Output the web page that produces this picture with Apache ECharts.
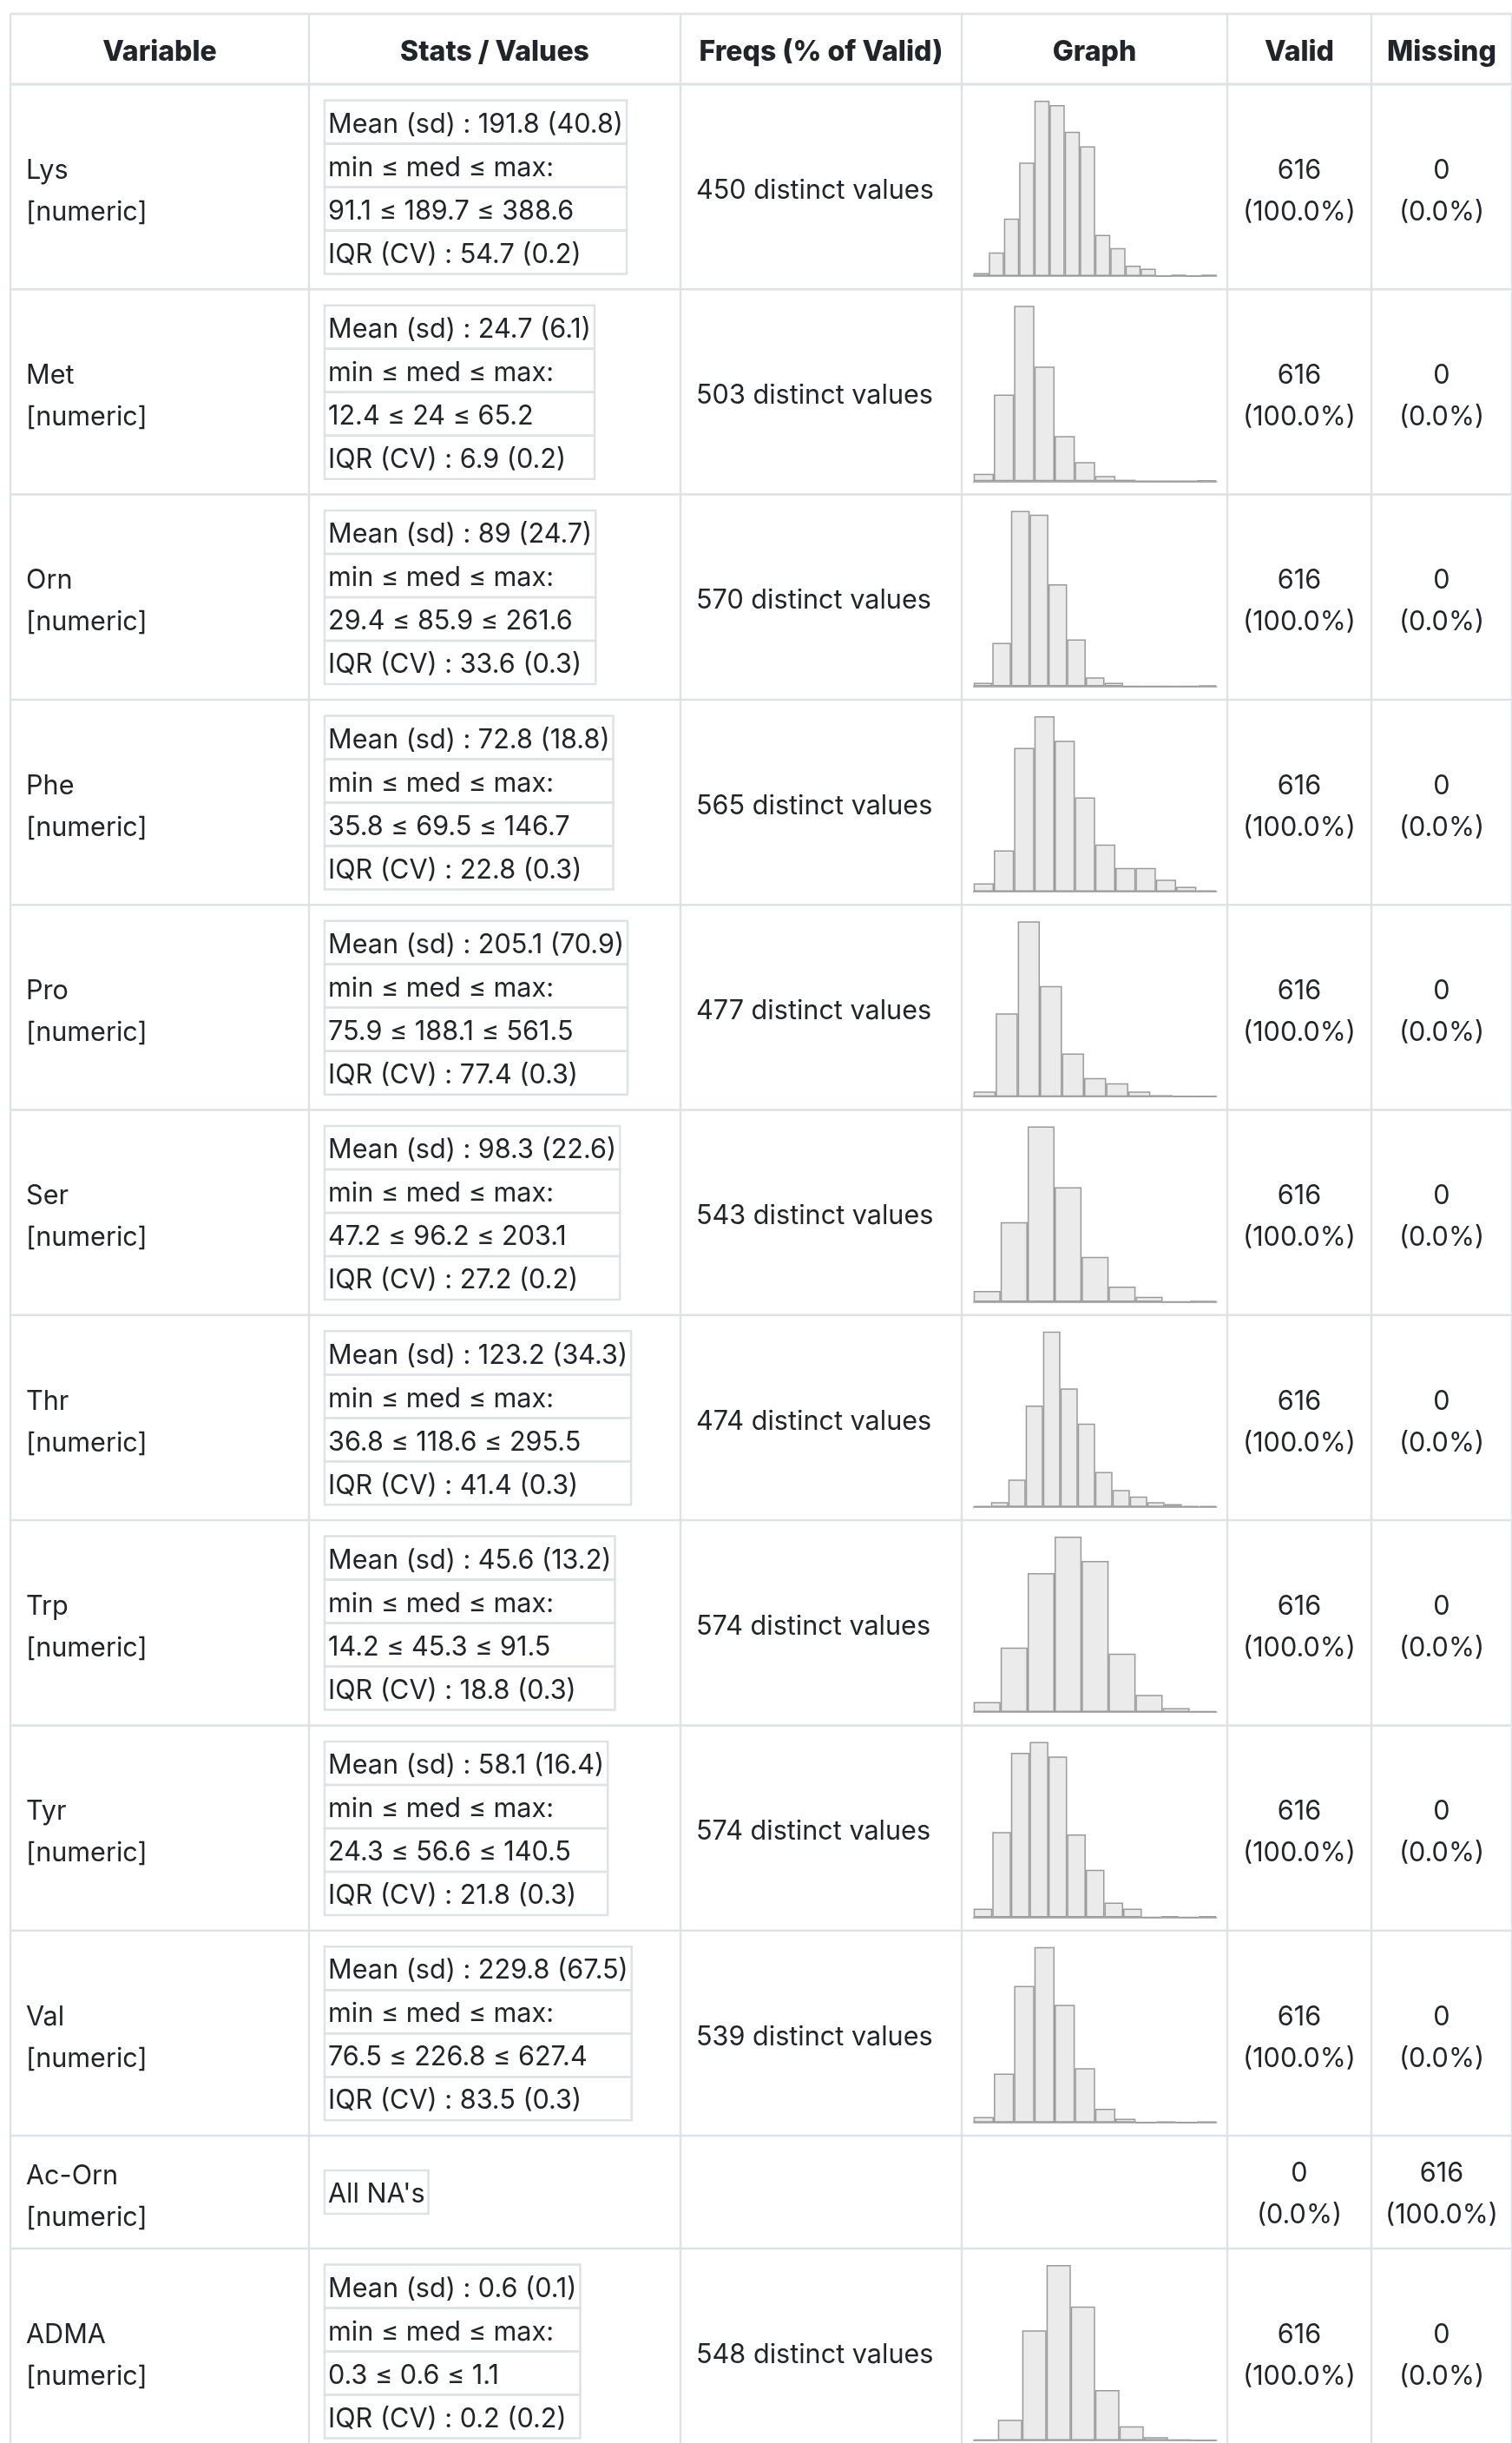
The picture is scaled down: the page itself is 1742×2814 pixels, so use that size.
<!DOCTYPE html>
<html><head><meta charset="utf-8">
<script src="https://cdn.jsdelivr.net/npm/echarts@6/dist/echarts.min.js"></script>
<style>html,body{margin:0;padding:0;background:#fff}#c{width:1742px;height:2814px}</style>
</head><body><div id="c"></div><script>
// ---------- data ----------
const headers = ['Variable', 'Stats / Values', 'Freqs (% of Valid)', 'Graph', 'Valid', 'Missing'];
const variables = ['Lys', 'Met', 'Orn', 'Phe', 'Pro', 'Ser', 'Thr', 'Trp', 'Tyr', 'Val', 'Ac-Orn', 'ADMA'];
const varTypes = ['[numeric]', '[numeric]', '[numeric]', '[numeric]', '[numeric]', '[numeric]', '[numeric]', '[numeric]', '[numeric]', '[numeric]', '[numeric]', '[numeric]'];
const meanSd = ['191.8 (40.8)', '24.7 (6.1)', '89 (24.7)', '72.8 (18.8)', '205.1 (70.9)', '98.3 (22.6)', '123.2 (34.3)', '45.6 (13.2)', '58.1 (16.4)', '229.8 (67.5)', null, '0.6 (0.1)'];
const minMedMax = ['91.1 ≤ 189.7 ≤ 388.6', '12.4 ≤ 24 ≤ 65.2', '29.4 ≤ 85.9 ≤ 261.6', '35.8 ≤ 69.5 ≤ 146.7', '75.9 ≤ 188.1 ≤ 561.5', '47.2 ≤ 96.2 ≤ 203.1', '36.8 ≤ 118.6 ≤ 295.5', '14.2 ≤ 45.3 ≤ 91.5', '24.3 ≤ 56.6 ≤ 140.5', '76.5 ≤ 226.8 ≤ 627.4', null, '0.3 ≤ 0.6 ≤ 1.1'];
const iqrCv = ['54.7 (0.2)', '6.9 (0.2)', '33.6 (0.3)', '22.8 (0.3)', '77.4 (0.3)', '27.2 (0.2)', '41.4 (0.3)', '18.8 (0.3)', '21.8 (0.3)', '83.5 (0.3)', null, '0.2 (0.2)'];
const allNaText = "All NA's";
const distinctValues = [450, 503, 570, 565, 477, 543, 474, 574, 574, 539, null, 548];
const validCounts = [616, 616, 616, 616, 616, 616, 616, 616, 616, 616, 0, 616];
const validPcts = ['100.0%', '100.0%', '100.0%', '100.0%', '100.0%', '100.0%', '100.0%', '100.0%', '100.0%', '100.0%', '0.0%', '100.0%'];
const missingCounts = [0, 0, 0, 0, 0, 0, 0, 0, 0, 0, 616, 0];
const missingPcts = ['0.0%', '0.0%', '0.0%', '0.0%', '0.0%', '0.0%', '0.0%', '0.0%', '0.0%', '0.0%', '100.0%', '0.0%'];

// histogram bin counts
const histLys = [2, 16, 39, 77, 119, 116, 98, 88, 28, 19, 7, 5, 0, 1, 0, 1];
const histMet = [10, 117, 237, 155, 61, 26, 7, 2, 0, 0, 0, 1];
const histOrn = [4, 48, 194, 190, 113, 52, 10, 4, 0, 0, 0, 0, 1];
const histPhe = [7, 35, 122, 149, 128, 80, 40, 20, 20, 10, 4, 1];
const histPro = [7, 112, 236, 149, 58, 25, 18, 7, 2, 1, 1];
const histSer = [15, 110, 242, 158, 62, 21, 7, 0, 1];
const histThr = [1, 5, 29, 107, 185, 125, 88, 37, 18, 11, 5, 3, 1, 1];
const histTrp = [10, 64, 138, 174, 150, 58, 17, 4, 1];
const histTyr = [7, 70, 135, 144, 132, 68, 39, 12, 7, 0, 1, 0, 1];
const histVal = [6, 54, 151, 194, 130, 60, 15, 4, 0, 1, 0, 1];
const histADMA = [1, 25, 133, 212, 162, 61, 17, 4, 1, 0];
const histByVar = { Lys: histLys, Met: histMet, Orn: histOrn, Phe: histPhe, Pro: histPro, Ser: histSer, Thr: histThr, Trp: histTrp, Tyr: histTyr, Val: histVal, ADMA: histADMA };

// ---------- layout ----------
const FONT = 'Inter, "Noto Sans", sans-serif';
const FS = 30.6;
const HFS = 32;
const DY = 3.5;
const TXT = '#212529';
const BORDER = '#dee2e6';
const colX = [12, 356, 784, 1108, 1414, 1580, 1742];
const headTop = 16, headBot = 97;
const rowH = 236.3, naRowH = 130;
const rowTops = [];
{
  let y = headBot;
  variables.forEach((v, i) => { rowTops.push(y); y += (meanSd[i] === null ? naRowH : rowH); });
  rowTops.push(y);
}

const meas = document.createElement('canvas').getContext('2d');
meas.font = FS + 'px ' + FONT;
const tw = s => meas.measureText(s).width;

const chart = echarts.init(document.getElementById('c'), null, { renderer: 'canvas', width: 1742, height: 2814 });

const gfx = [];
function text(x, y, s, align, bold) {
  gfx.push({ type: 'text', x: x, y: y + DY, z: 10, silent: true,
    style: { text: s, font: (bold ? '800 ' + HFS : FS) + 'px ' + FONT, fill: TXT,
      align: align, verticalAlign: 'middle', textAlign: align, textVerticalAlign: 'middle' } });
}
function hline(y, x1, x2, w) {
  gfx.push({ type: 'line', z: 1, silent: true, shape: { x1: x1, y1: y, x2: x2, y2: y }, style: { stroke: BORDER, lineWidth: w || 2.5 } });
}
function vline(x, y1, y2) {
  gfx.push({ type: 'line', z: 1, silent: true, shape: { x1: x, y1: y1, x2: x, y2: y2 }, style: { stroke: BORDER, lineWidth: 2.5 } });
}
function rect(x, y, w, h) {
  gfx.push({ type: 'rect', z: 2, silent: true, shape: { x: x, y: y, width: w, height: h }, style: { fill: 'none', stroke: BORDER, lineWidth: 2.5 } });
}

// table lines
hline(headTop, colX[0], 1742);
hline(headBot, colX[0], 1742, 3);
rowTops.slice(1).forEach(y => hline(y, colX[0], 1742));
colX.forEach(x => vline(x, headTop, 2814));

// headers
const headY = (headTop + headBot) / 2;
headers.forEach((h, i) => text((colX[i] + colX[i + 1]) / 2, headY, h, 'center', true));

const grids = [], xAxes = [], yAxes = [], series = [];
variables.forEach((v, i) => {
  const top = rowTops[i], bot = rowTops[i + 1];
  const cy = (top + bot) / 2 + 2;
  // variable column
  text(colX[0] + 18, cy - 24, v, 'left');
  text(colX[0] + 18, cy + 24, varTypes[i], 'left');
  // stats box
  const bx = colX[1] + 18;
  if (meanSd[i] === null) {
    const w = tw(allNaText) + 8;
    rect(bx, cy - 2 - 25, w, 50);
    text(bx + 4, cy - 3, allNaText, 'left');
  } else {
    const lines = ['Mean (sd) : ' + meanSd[i], 'min ≤ med ≤ max:', minMedMax[i], 'IQR (CV) : ' + iqrCv[i]];
    const w = Math.max.apply(null, lines.map(tw)) + 8;
    const by = top + 18.5;
    lines.forEach((s, k) => {
      rect(bx, by + k * 50, w, 50);
      text(bx + 4, by + k * 50 + 24.5, s, 'left');
    });
  }
  // freqs
  if (distinctValues[i] !== null) text(colX[2] + 18, cy - 1, distinctValues[i] + ' distinct values', 'left');
  // valid / missing
  const vcx = (colX[4] + colX[5]) / 2, mcx = (colX[5] + colX[6]) / 2;
  const vOff = meanSd[i] === null ? -3 : 0;
  text(vcx, cy - 24 + vOff, String(validCounts[i]), 'center');
  text(vcx, cy + 24 + vOff, '(' + validPcts[i] + ')', 'center');
  text(mcx, cy - 24 + vOff, String(missingCounts[i]), 'center');
  text(mcx, cy + 24 + vOff, '(' + missingPcts[i] + ')', 'center');
  // histogram
  const h = histByVar[v];
  if (h) {
    const gi = grids.length;
    grids.push({ left: 1121.7, width: 280, top: top + 19, height: 202, containLabel: false });
    xAxes.push({ type: 'category', gridIndex: gi, data: h.map((_, k) => String(k + 1)), boundaryGap: true,
      axisLine: { show: true, lineStyle: { color: '#9a9a9a', width: 1.5 } }, axisTick: { show: false }, axisLabel: { show: false }, splitLine: { show: false } });
    yAxes.push({ type: 'value', gridIndex: gi, min: 0, max: 'dataMax', show: false, splitLine: { show: false } });
    series.push({ type: 'bar', xAxisIndex: gi, yAxisIndex: gi, data: h, barCategoryGap: '0%', silent: true,
      itemStyle: { color: '#ebebeb', borderColor: '#9a9a9a', borderWidth: 1.5 } });
  }
});

chart.setOption({
  animation: false,
  backgroundColor: '#ffffff',
  grid: grids, xAxis: xAxes, yAxis: yAxes, series: series,
  graphic: { elements: gfx }
});
</script></body></html>
